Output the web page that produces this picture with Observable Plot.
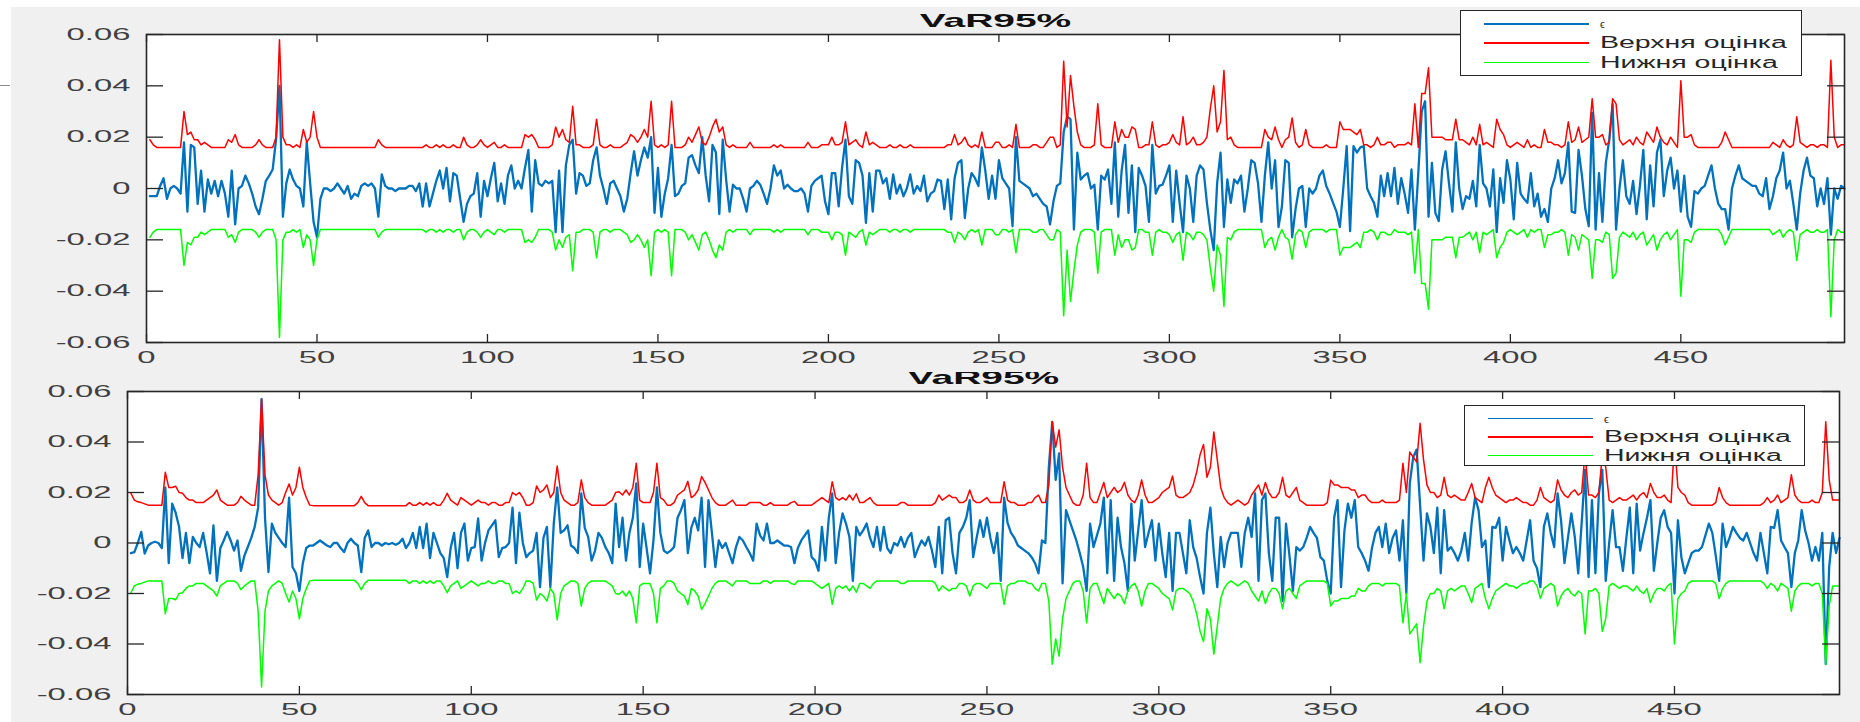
<!DOCTYPE html>
<html><head><meta charset="utf-8">
<script src="https://cdn.jsdelivr.net/npm/d3@7"></script>
<script src="https://cdn.jsdelivr.net/npm/@observablehq/plot@0.6"></script>
<style>
html,body{margin:0;padding:0;background:#fff;}
#fig{position:relative;width:1860px;height:722px;overflow:hidden;background:#f0f0f0;font-family:"Liberation Sans",Arial,sans-serif;}
#top{position:absolute;left:0;top:0;width:1860px;height:372px;z-index:2;background:#f0f0f0;overflow:hidden;}
#bottom{position:absolute;left:0;top:360px;width:1860px;height:362px;z-index:1;}
#wl{position:absolute;left:0;top:0;width:11px;height:722px;background:#fff;z-index:5;}
#wt{position:absolute;left:0;top:0;width:1860px;height:7px;background:#fff;z-index:5;}
#stray{position:absolute;left:0;top:85px;width:10px;height:1px;background:#8a8a8a;z-index:6;}
.legend{position:absolute;background:#fff;border:1.5px solid #262626;box-sizing:border-box;z-index:4;}
.legend .ln{position:absolute;height:1.5px;}
.legend .tx{position:absolute;white-space:nowrap;font-size:16px;color:#262626;line-height:16px;transform-origin:left center;}
</style>
</head><body>
<div id="fig">
  <div id="wl"></div><div id="wt"></div><div id="stray"></div>
  <div id="top"></div>
  <div id="bottom"></div>
</div>
<script>
const xTicks = [0,50,100,150,200,250,300,350,400,450];
const yTicks = [-0.06,-0.04,-0.02,0,0.02,0.04,0.06];
const titles = ["VaR95%", "VaR95%"];
const seriesNames = ["\u03F5", "Верхня оцінка", "Нижня оцінка"];
const seriesColors = ["#0072BD", "#FF0000", "#00FF00"];

const topEps = [
-0.003,-0.003,-0.003,0.001,0.004,-0.004,0,0.001,0,-0.002,
0.018,-0.009,0.017,0.016,-0.006,0.007,-0.009,0.0035,-0.002,0.003,
-0.003,0.003,-0.002,-0.011,0.007,-0.014,0,0.001,0.005,0.002,
-0.002,-0.007,-0.010,-0.004,0.003,0.005,0.0074,0.019,0.040,-0.011,
0.002,0.0074,0.0035,0.001,0,-0.007,0.018,0.002,-0.013,-0.019,
-0.004,0,0,-0.001,0,0.002,0,-0.002,0.001,-0.004,
-0.002,-0.003,0.001,0.002,0.001,0.002,0,-0.011,0.0055,0.001,
0,0,-0.001,0,0,0,0.001,0.001,-0.001,0.002,
-0.007,0.002,-0.007,-0.002,0.003,0.007,0,0.008,-0.005,0.006,
0.005,-0.004,-0.013,-0.006,-0.003,-0.002,0.006,-0.011,0.003,-0.003,
0.004,0.010,-0.005,0.002,-0.006,0.005,0.009,0,0.003,0,
0.008,0.015,-0.009,0.011,0.002,0.001,0.003,0.002,0.003,-0.017,
0.007,-0.017,0.009,0.017,0.019,-0.002,0.006,0.005,0.001,0.002,
0.011,0.016,0.005,0,-0.006,0.002,0.003,0,-0.003,-0.009,
-0.004,0.006,0.0145,0.005,0.011,0.016,0.012,0.020,-0.0095,0.008,
-0.011,-0.002,0.004,0.017,-0.003,-0.002,0.001,0.002,0.012,0.013,
0.009,0.006,0.020,0.005,-0.005,0.017,0.014,-0.010,0.019,0.0035,
-0.009,0.0015,0,0,-0.004,-0.009,0,0.001,0.003,0.0015,
-0.002,-0.006,0,0.009,0.005,0.007,0,0.0015,0,-0.001,
-0.001,0,-0.002,-0.009,0.001,0.003,0.004,0.005,-0.005,-0.010,
0.006,0.006,-0.007,0.008,0.019,-0.003,-0.006,0.011,0.010,0.005,
-0.0134,0.006,-0.009,0.007,0.007,0.002,0.004,-0.004,0.0055,-0.002,
0.0015,-0.003,0,0.0055,-0.002,0.001,-0.001,0.005,-0.005,-0.002,
-0.001,0.0035,0.003,-0.008,0.0035,-0.012,0.004,0.010,0.011,-0.0115,
0,0.006,0.004,0.001,0.016,0.007,-0.004,0.005,-0.004,0.011,
0.004,0.002,0,-0.0147,0.020,0.003,0.002,0.001,0,-0.003,
-0.002,-0.004,-0.006,-0.007,-0.014,-0.005,0.001,0.002,0.022,0.028,
0.027,-0.016,0.014,0.0035,0.005,0.006,0,0.0015,-0.016,0.005,
0.0035,0.0074,-0.006,0.018,-0.011,0.007,0.017,-0.0095,0.009,-0.017,
0.008,0.005,0.001,-0.013,0.017,-0.002,0.001,0.0015,0.005,0.009,
-0.013,0.007,-0.0056,-0.017,0.005,0,-0.013,0.005,0.009,0.0074,
-0.0056,-0.016,-0.024,0.002,0.014,-0.015,0.0035,-0.0056,0.0035,0.002,
0.005,-0.009,0,0.011,0.010,0.002,-0.013,0.005,0.018,0,
0.011,-0.015,-0.007,0.011,0.010,-0.019,-0.008,0,0.001,-0.015,
0,-0.002,0,0.005,0.007,0.001,-0.002,-0.0056,-0.009,-0.015,
0,0.0165,-0.0166,0.0165,0.014,0.016,0.0165,0,-0.003,-0.0056,
-0.011,0.005,-0.003,0.006,-0.003,0.008,-0.006,0.004,-0.002,-0.0095,
0.0074,-0.016,0.006,0.030,0.034,-0.011,0.010,-0.0095,-0.0127,0.0074,
0.0145,0.002,-0.009,0.018,0,-0.008,-0.003,-0.004,0.003,-0.007,
0.017,0.002,0,-0.007,0.0074,-0.017,0.004,-0.0056,0.011,0.0035,
-0.012,0.010,-0.002,-0.004,-0.0056,0.006,-0.007,-0.002,-0.011,-0.008,
-0.013,0,0.004,0.011,0.002,0.006,0.018,-0.009,-0.0095,0.015,
0.005,-0.008,-0.0147,0.0295,-0.016,0.006,-0.013,0.010,0.019,0.033,
-0.016,0,0.011,-0.003,-0.006,0.003,-0.010,0.001,0.015,-0.012,
0.009,-0.007,0.014,0.019,-0.003,0.007,0.012,0,0.007,-0.009,
0.005,-0.011,-0.015,-0.001,-0.002,0,0.001,0.005,0.009,0,
-0.006,-0.008,-0.008,-0.016,0,0.005,0.009,0.004,0.003,0.002,
0.001,0.001,-0.002,-0.003,0.004,-0.008,-0.003,0.004,0.007,0.014,
0,0.003,-0.006,-0.016,-0.002,0.007,0.012,0.005,0.004,-0.007,
0,-0.006,0.004,-0.018,0,-0.004,0.001,0
];

const topUpper = [
.019,.017,.016,.016,.016,.016,.016,.016,.016,.016,
.030,.021,.022,.019,.019,.017,.018,.017,.016,.016,
.016,.016,.016,.019,.018,.021,.017,.016,.016,.016,
.016,.017,.019,.017,.016,.016,.016,.020,.058,.020,
.017,.017,.016,.017,.016,.023,.018,.020,.030,.020,
.016,.016,.016,.016,.016,.016,.016,.016,.016,.016,
.016,.016,.016,.016,.016,.016,.016,.019,.017,.016,
.016,.016,.016,.016,.016,.016,.016,.016,.016,.016,
.016,.017,.016,.016,.017,.016,.017,.016,.016,.017,
.016,.016,.020,.017,.016,.016,.017,.019,.017,.016,
.017,.018,.016,.016,.017,.016,.016,.016,.016,.016,
.021,.020,.021,.019,.016,.016,.016,.016,.017,.024,
.020,.023,.019,.018,.032,.017,.017,.016,.016,.016,
.017,.027,.017,.016,.016,.017,.016,.016,.016,.017,
.018,.021,.020,.018,.020,.023,.020,.034,.017,.016,
.017,.016,.017,.034,.016,.016,.016,.017,.020,.018,
.021,.024,.018,.017,.020,.024,.027,.022,.024,.017,
.016,.017,.016,.016,.016,.016,.018,.016,.016,.016,
.016,.016,.016,.017,.016,.017,.016,.016,.016,.016,
.016,.016,.016,.018,.016,.016,.016,.017,.017,.017,
.020,.017,.017,.018,.026,.017,.018,.019,.017,.016,
.022,.017,.018,.017,.016,.016,.016,.017,.016,.016,
.017,.016,.016,.017,.016,.016,.016,.016,.016,.016,
.016,.016,.016,.016,.017,.017,.021,.017,.018,.020,
.017,.016,.017,.016,.022,.016,.016,.016,.018,.018,
.016,.016,.017,.016,.025,.016,.016,.016,.016,.017,
.017,.016,.016,.018,.020,.020,.016,.017,.0496,.024,
.044,.032,.022,.017,.016,.016,.016,.017,.033,.017,
.016,.016,.016,.026,.018,.023,.020,.020,.024,.023,
.016,.016,.017,.017,.026,.017,.016,.017,.017,.018,
.021,.018,.017,.028,.017,.018,.020,.017,.017,.018,
.020,.031,.040,.022,.026,.046,.019,.020,.017,.016,
.016,.016,.016,.016,.016,.016,.016,.023,.020,.019,
.024,.019,.016,.019,.020,.0275,.018,.016,.017,.023,
.017,.016,.016,.016,.016,.017,.016,.016,.016,.026,
.023,.023,.023,.022,.021,.023,.017,.017,.016,.017,
.020,.017,.017,.018,.018,.016,.017,.017,.017,.018,
.017,.033,.016,.037,.037,.047,.020,.020,.020,.020,
.019,.019,.019,.027,.019,.019,.018,.017,.020,.017,
.025,.017,.018,.017,.016,.027,.023,.021,.017,.016,
.017,.018,.017,.016,.019,.016,.017,.016,.016,.023,
.018,.018,.017,.017,.016,.017,.026,.018,.019,.024,
.018,.019,.020,.035,.020,.020,.021,.017,.018,.035,
.033,.019,.017,.018,.019,.017,.020,.018,.017,.022,
.020,.018,.024,.020,.018,.017,.020,.018,.016,.042,
.020,.020,.021,.017,.016,.016,.016,.016,.016,.016,
.016,.018,.022,.019,.016,.016,.016,.016,.016,.016,
.016,.016,.016,.016,.016,.016,.018,.017,.016,.019,
.017,.016,.017,.028,.018,.017,.016,.017,.017,.016,
.017,.017,.016,.050,.020,.016,.017,.017
];

const topLower = [
-.019,-.017,-.016,-.016,-.016,-.016,-.016,-.016,-.016,-.016,
-.030,-.021,-.022,-.019,-.019,-.017,-.018,-.017,-.016,-.016,
-.016,-.016,-.016,-.019,-.018,-.021,-.017,-.016,-.016,-.016,
-.016,-.017,-.019,-.017,-.016,-.016,-.016,-.020,-.058,-.020,
-.017,-.017,-.016,-.017,-.016,-.023,-.018,-.020,-.030,-.020,
-.016,-.016,-.016,-.016,-.016,-.016,-.016,-.016,-.016,-.016,
-.016,-.016,-.016,-.016,-.016,-.016,-.016,-.019,-.017,-.016,
-.016,-.016,-.016,-.016,-.016,-.016,-.016,-.016,-.016,-.016,
-.016,-.017,-.016,-.016,-.017,-.016,-.017,-.016,-.016,-.017,
-.016,-.016,-.020,-.017,-.016,-.016,-.017,-.019,-.017,-.016,
-.017,-.018,-.016,-.016,-.017,-.016,-.016,-.016,-.016,-.016,
-.021,-.020,-.021,-.019,-.016,-.016,-.016,-.016,-.017,-.024,
-.020,-.023,-.019,-.018,-.032,-.017,-.017,-.016,-.016,-.016,
-.017,-.027,-.017,-.016,-.016,-.017,-.016,-.016,-.016,-.017,
-.018,-.021,-.020,-.018,-.020,-.023,-.020,-.034,-.017,-.016,
-.017,-.016,-.017,-.034,-.016,-.016,-.016,-.017,-.020,-.018,
-.021,-.024,-.018,-.017,-.020,-.024,-.027,-.022,-.024,-.017,
-.016,-.017,-.016,-.016,-.016,-.016,-.018,-.016,-.016,-.016,
-.016,-.016,-.016,-.017,-.016,-.017,-.016,-.016,-.016,-.016,
-.016,-.016,-.016,-.018,-.016,-.016,-.016,-.017,-.017,-.017,
-.020,-.017,-.017,-.018,-.026,-.017,-.018,-.019,-.017,-.016,
-.022,-.017,-.018,-.017,-.016,-.016,-.016,-.017,-.016,-.016,
-.017,-.016,-.016,-.017,-.016,-.016,-.016,-.016,-.016,-.016,
-.016,-.016,-.016,-.016,-.017,-.017,-.021,-.017,-.018,-.020,
-.017,-.016,-.017,-.016,-.022,-.016,-.016,-.016,-.018,-.018,
-.016,-.016,-.017,-.016,-.025,-.016,-.016,-.016,-.016,-.017,
-.017,-.016,-.016,-.018,-.020,-.020,-.016,-.017,-.0496,-.024,
-.044,-.032,-.022,-.017,-.016,-.016,-.016,-.017,-.033,-.017,
-.016,-.016,-.016,-.026,-.018,-.023,-.020,-.020,-.024,-.023,
-.016,-.016,-.017,-.017,-.026,-.017,-.016,-.017,-.017,-.018,
-.021,-.018,-.017,-.028,-.017,-.018,-.020,-.017,-.017,-.018,
-.020,-.031,-.040,-.022,-.026,-.046,-.019,-.020,-.017,-.016,
-.016,-.016,-.016,-.016,-.016,-.016,-.016,-.023,-.020,-.019,
-.024,-.019,-.016,-.019,-.020,-.0275,-.018,-.016,-.017,-.023,
-.017,-.016,-.016,-.016,-.016,-.017,-.016,-.016,-.016,-.026,
-.023,-.023,-.023,-.022,-.021,-.023,-.017,-.017,-.016,-.017,
-.020,-.017,-.017,-.018,-.018,-.016,-.017,-.017,-.017,-.018,
-.017,-.033,-.016,-.037,-.037,-.047,-.020,-.020,-.020,-.020,
-.019,-.019,-.019,-.027,-.019,-.019,-.018,-.017,-.020,-.017,
-.025,-.017,-.018,-.017,-.016,-.027,-.023,-.021,-.017,-.016,
-.017,-.018,-.017,-.016,-.019,-.016,-.017,-.016,-.016,-.023,
-.018,-.018,-.017,-.017,-.016,-.017,-.026,-.018,-.019,-.024,
-.018,-.019,-.020,-.035,-.020,-.020,-.021,-.017,-.018,-.035,
-.033,-.019,-.017,-.018,-.019,-.017,-.020,-.018,-.017,-.022,
-.020,-.018,-.024,-.020,-.018,-.017,-.020,-.018,-.016,-.042,
-.020,-.020,-.021,-.017,-.016,-.016,-.016,-.016,-.016,-.016,
-.016,-.018,-.022,-.019,-.016,-.016,-.016,-.016,-.016,-.016,
-.016,-.016,-.016,-.016,-.016,-.016,-.018,-.017,-.016,-.019,
-.017,-.016,-.017,-.028,-.018,-.017,-.016,-.017,-.017,-.016,
-.017,-.017,-.016,-.050,-.020,-.016,-.017,-.017
];

const botEps = [
-0.004,-0.0036,0,0.0044,-0.0042,-0.001,0,0.0005,0,-0.002,
0.022,-0.008,0.0156,0.012,0.0064,-0.006,0.004,-0.008,0.0024,0,
-0.0016,0.004,-0.0036,-0.012,0.007,-0.015,-0.002,0.001,0.0044,0.001,
-0.003,0.001,-0.011,-0.005,-0.0016,0.002,0.0064,0.014,0.057,0.010,
-0.0115,0.0077,0.004,0.002,0,-0.0016,0.018,-0.0095,-0.012,-0.019,
-0.008,-0.002,-0.001,-0.001,0,0.001,0,-0.001,-0.0016,0,
0,-0.002,-0.0036,0,0.0017,0,-0.001,-0.0115,0.002,0.005,
-0.0016,0,0,-0.001,0,-0.0005,0,-0.0007,0,0.0017,
-0.002,0,0.004,-0.002,0.0064,-0.002,0.0077,-0.006,0.004,0,
-0.004,-0.006,-0.0135,-0.002,0.004,-0.010,0.004,0.0077,-0.007,-0.002,
-0.0016,0.0097,-0.007,0,0.005,0.007,0.009,-0.0056,-0.002,-0.0016,
0,0.014,-0.008,0.012,0,-0.0056,-0.004,-0.003,0.004,-0.0175,
0.002,0.0064,-0.0175,0.0077,0.022,0.004,0.005,0.007,-0.001,-0.002,
-0.004,0.0196,0.006,0.0024,-0.007,-0.003,0.004,0.002,-0.0016,-0.004,
-0.008,0.0156,-0.0016,0.010,-0.007,0.004,0.010,0.0236,-0.0095,0.0077,
-0.002,-0.012,0.001,0.022,0.004,-0.003,-0.004,-0.003,-0.0016,0.010,
0.013,0.017,-0.004,0.006,0.010,0.005,0.018,-0.0095,0.017,0.004,
-0.0095,0.001,-0.002,0,-0.004,-0.008,-0.0016,0.0024,0.001,-0.0016,
-0.004,-0.007,0.0077,0.003,0.001,0.0077,0,0,0.001,0,
-0.001,-0.001,-0.0016,-0.008,-0.002,0.001,0.003,0.005,-0.0056,-0.007,
-0.011,0.0064,-0.007,0.010,0.0196,-0.008,0.004,0.0117,0.0077,0.0024,
-0.015,0.0064,0.003,0.005,0.0077,0.002,-0.0016,0.0064,-0.003,0.0064,
-0.002,-0.004,0,-0.001,0.0024,-0.0016,0.002,0.004,-0.0056,-0.002,
0.001,-0.001,0.0024,-0.003,-0.0095,0.0064,-0.012,0.009,0.010,-0.004,
-0.012,0.004,0.0064,0.010,0.017,-0.0056,0.002,0.009,0.0024,0.010,
0.002,-0.004,0.004,-0.015,0.018,0.008,0.004,0.002,-0.001,-0.002,
-0.003,-0.004,-0.0056,-0.008,-0.012,0.001,0,0.030,0.048,0.025,
0.0355,-0.016,0.013,0.009,0.005,0.001,-0.004,-0.0095,-0.019,0.0077,
-0.0016,0.003,0.0077,0.018,-0.012,0.017,-0.015,0.010,-0.0016,-0.008,
-0.019,0.0156,-0.007,0.005,0.017,-0.0016,0.004,0.009,-0.007,0.0077,
-0.004,-0.0135,0.004,-0.019,0.004,0.004,-0.004,-0.012,0.009,-0.0016,
-0.006,-0.0135,-0.020,0.004,0.014,-0.004,-0.0175,0.0024,-0.0095,0,
0.004,0.004,0.004,-0.0095,0.004,0.010,0.0024,0.0196,-0.015,0.017,
0.0196,-0.004,-0.015,0.010,0.010,-0.023,0.0077,-0.005,-0.019,-0.0016,
-0.003,-0.0016,0.002,0.0064,0.004,0.002,-0.0056,-0.007,-0.015,-0.020,
0.010,0.017,-0.0175,0.005,0.0156,0.010,0.017,-0.0016,-0.004,-0.007,
-0.011,-0.002,0.004,0.0064,-0.0016,0.0077,-0.004,0.002,0.005,-0.007,
0.009,-0.020,0.0236,0.034,0.037,0.015,-0.007,0.0117,0.0064,-0.004,
0.014,-0.012,0.013,-0.003,-0.0016,-0.004,-0.007,-0.003,0.004,-0.007,
0.008,0.018,0.013,-0.0016,0.001,-0.0175,0.0064,0.006,0.010,-0.007,
0.0064,0.001,-0.004,-0.0016,-0.004,-0.007,0.001,0.009,-0.007,-0.010,
-0.0175,0.0064,0.0117,0.004,-0.0016,0.0196,0.009,-0.008,0.002,0.0117,
0.0024,-0.012,0.008,0.029,-0.0135,0.017,-0.012,0.0196,0.029,-0.015,
0,0.013,-0.0016,-0.0016,-0.011,0.002,0.014,-0.012,0.0156,-0.003,
0.004,0.010,0.017,-0.011,0,0.010,0.013,0.0064,0.004,-0.020,
0.009,-0.0056,-0.012,-0.008,-0.004,-0.003,-0.003,-0.0016,0.003,0.0077,
0.004,-0.005,-0.015,0.0077,-0.0016,0.002,0.0064,0.004,0.002,0.001,
0.004,0,-0.004,-0.007,0.004,-0.004,-0.012,0.0064,0.006,0.013,
0.001,-0.0016,-0.004,-0.0175,-0.004,0.001,0.013,0.005,0,-0.007,
-0.0016,-0.007,0.004,-0.048,-0.0095,0.004,-0.004,0.002
];

const botUpper = [
.0197,.017,.0163,.016,.0155,.015,.015,.015,.015,.015,
.028,.022,.022,.0225,.020,.0197,.018,.017,.017,.016,
.016,.016,.017,.018,.019,.021,.017,.016,.015,.015,
.015,.016,.0185,.017,.016,.015,.015,.027,.057,.027,
.019,.017,.016,.015,.016,.020,.0234,.019,.022,.030,
.022,.018,.015,.0148,.0148,.0148,.0148,.0148,.0148,.0148,
.0148,.0148,.0148,.0148,.0148,.0148,.016,.0185,.016,.0148,
.0148,.0148,.0148,.0148,.0148,.0148,.0148,.0148,.0148,.0148,
.0148,.016,.015,.015,.016,.015,.016,.015,.016,.015,
.015,.017,.0197,.017,.016,.015,.018,.017,.016,.015,
.016,.017,.016,.016,.015,.016,.016,.015,.015,.016,
.016,.020,.019,.020,.018,.015,.015,.016,.0226,.020,
.021,.023,.018,.020,.0305,.020,.017,.016,.015,.015,
.016,.025,.018,.016,.015,.015,.015,.015,.015,.016,
.017,.020,.0203,.019,.021,.019,.022,.0316,.017,.016,
.016,.016,.020,.0316,.018,.017,.015,.015,.016,.019,
.020,.021,.0244,.018,.019,.021,.0263,.024,.021,.018,
.016,.015,.015,.015,.016,.017,.015,.015,.015,.015,
.016,.016,.016,.016,.015,.015,.016,.015,.015,.015,
.015,.015,.016,.0165,.015,.015,.015,.015,.015,.016,
.017,.018,.017,.016,.0243,.018,.017,.018,.017,.019,
.017,.0195,.016,.016,.017,.018,.016,.015,.015,.015,
.015,.015,.015,.015,.016,.016,.015,.015,.015,.015,
.015,.015,.015,.015,.016,.019,.017,.018,.019,.018,
.018,.016,.016,.017,.021,.017,.016,.016,.017,.018,
.016,.016,.016,.016,.0243,.017,.016,.016,.015,.015,
.015,.016,.016,.018,.019,.016,.016,.023,.048,.038,
.0448,.030,.022,.019,.016,.015,.015,.019,.0316,.018,
.016,.016,.020,.024,.018,.020,.022,.020,.021,.024,
.019,.017,.016,.019,.025,.019,.016,.016,.017,.018,
.020,.021,.022,.0265,.019,.018,.018,.019,.020,.023,
.028,.035,.039,.026,.030,.044,.033,.022,.018,.016,
.015,.016,.017,.016,.015,.016,.019,.021,.023,.019,
.024,.020,.018,.018,.020,.026,.019,.018,.020,.022,
.017,.016,.015,.015,.015,.015,.015,.015,.016,.0249,
.023,.023,.022,.022,.022,.021,.021,.018,.019,.019,
.017,.016,.016,.016,.017,.016,.016,.016,.016,.017,
.0316,.020,.036,.034,.032,.0474,.033,.023,.020,.020,
.018,.019,.026,.019,.018,.019,.018,.017,.017,.020,
.0236,.018,.017,.016,.022,.026,.022,.019,.018,.017,
.016,.017,.017,.018,.017,.016,.016,.015,.015,.017,
.022,.018,.017,.016,.017,.025,.021,.019,.018,.020,
.021,.019,.020,.036,.019,.019,.018,.020,.035,.030,
.017,.016,.017,.018,.017,.017,.018,.019,.017,.019,
.020,.018,.0236,.020,.018,.018,.019,.017,.016,.040,
.022,.020,.019,.016,.015,.015,.015,.015,.015,.015,
.015,.016,.022,.018,.016,.015,.015,.015,.015,.015,
.015,.015,.015,.015,.015,.016,.018,.016,.017,.019,
.016,.017,.018,.027,.019,.017,.016,.016,.016,.017,
.016,.016,.020,.048,.025,.017,.017,.017
];

const botLower = [
-.0197,-.017,-.0163,-.016,-.0155,-.015,-.015,-.015,-.015,-.015,
-.028,-.022,-.022,-.0225,-.020,-.0197,-.018,-.017,-.017,-.016,
-.016,-.016,-.017,-.018,-.019,-.021,-.017,-.016,-.015,-.015,
-.015,-.016,-.0185,-.017,-.016,-.015,-.015,-.027,-.057,-.027,
-.019,-.017,-.016,-.015,-.016,-.020,-.0234,-.019,-.022,-.030,
-.022,-.018,-.015,-.0148,-.0148,-.0148,-.0148,-.0148,-.0148,-.0148,
-.0148,-.0148,-.0148,-.0148,-.0148,-.0148,-.016,-.0185,-.016,-.0148,
-.0148,-.0148,-.0148,-.0148,-.0148,-.0148,-.0148,-.0148,-.0148,-.0148,
-.0148,-.016,-.015,-.015,-.016,-.015,-.016,-.015,-.016,-.015,
-.015,-.017,-.0197,-.017,-.016,-.015,-.018,-.017,-.016,-.015,
-.016,-.017,-.016,-.016,-.015,-.016,-.016,-.015,-.015,-.016,
-.016,-.020,-.019,-.020,-.018,-.015,-.015,-.016,-.0226,-.020,
-.021,-.023,-.018,-.020,-.0305,-.020,-.017,-.016,-.015,-.015,
-.016,-.025,-.018,-.016,-.015,-.015,-.015,-.015,-.015,-.016,
-.017,-.020,-.0203,-.019,-.021,-.019,-.022,-.0316,-.017,-.016,
-.016,-.016,-.020,-.0316,-.018,-.017,-.015,-.015,-.016,-.019,
-.020,-.021,-.0244,-.018,-.019,-.021,-.0263,-.024,-.021,-.018,
-.016,-.015,-.015,-.015,-.016,-.017,-.015,-.015,-.015,-.015,
-.016,-.016,-.016,-.016,-.015,-.015,-.016,-.015,-.015,-.015,
-.015,-.015,-.016,-.0165,-.015,-.015,-.015,-.015,-.015,-.016,
-.017,-.018,-.017,-.016,-.0243,-.018,-.017,-.018,-.017,-.019,
-.017,-.0195,-.016,-.016,-.017,-.018,-.016,-.015,-.015,-.015,
-.015,-.015,-.015,-.015,-.016,-.016,-.015,-.015,-.015,-.015,
-.015,-.015,-.015,-.015,-.016,-.019,-.017,-.018,-.019,-.018,
-.018,-.016,-.016,-.017,-.021,-.017,-.016,-.016,-.017,-.018,
-.016,-.016,-.016,-.016,-.0243,-.017,-.016,-.016,-.015,-.015,
-.015,-.016,-.016,-.018,-.019,-.016,-.016,-.023,-.048,-.038,
-.0448,-.030,-.022,-.019,-.016,-.015,-.015,-.019,-.0316,-.018,
-.016,-.016,-.020,-.024,-.018,-.020,-.022,-.020,-.021,-.024,
-.019,-.017,-.016,-.019,-.025,-.019,-.016,-.016,-.017,-.018,
-.020,-.021,-.022,-.0265,-.019,-.018,-.018,-.019,-.020,-.023,
-.028,-.035,-.039,-.026,-.030,-.044,-.033,-.022,-.018,-.016,
-.015,-.016,-.017,-.016,-.015,-.016,-.019,-.021,-.023,-.019,
-.024,-.020,-.018,-.018,-.020,-.026,-.019,-.018,-.020,-.022,
-.017,-.016,-.015,-.015,-.015,-.015,-.015,-.015,-.016,-.0249,
-.023,-.023,-.022,-.022,-.022,-.021,-.021,-.018,-.019,-.019,
-.017,-.016,-.016,-.016,-.017,-.016,-.016,-.016,-.016,-.017,
-.0316,-.020,-.036,-.034,-.032,-.0474,-.033,-.023,-.020,-.020,
-.018,-.019,-.026,-.019,-.018,-.019,-.018,-.017,-.017,-.020,
-.0236,-.018,-.017,-.016,-.022,-.026,-.022,-.019,-.018,-.017,
-.016,-.017,-.017,-.018,-.017,-.016,-.016,-.015,-.015,-.017,
-.022,-.018,-.017,-.016,-.017,-.025,-.021,-.019,-.018,-.020,
-.021,-.019,-.020,-.036,-.019,-.019,-.018,-.020,-.035,-.030,
-.017,-.016,-.017,-.018,-.017,-.017,-.018,-.019,-.017,-.019,
-.020,-.018,-.0236,-.020,-.018,-.018,-.019,-.017,-.016,-.040,
-.022,-.020,-.019,-.016,-.015,-.015,-.015,-.015,-.015,-.015,
-.015,-.016,-.022,-.018,-.016,-.015,-.015,-.015,-.015,-.015,
-.015,-.015,-.015,-.015,-.015,-.016,-.018,-.016,-.017,-.019,
-.016,-.017,-.018,-.027,-.019,-.017,-.016,-.016,-.016,-.017,
-.016,-.016,-.020,-.048,-.025,-.017,-.017,-.017
];

const AX = "#262626";
const FONT = "'Liberation Sans', Arial, Helvetica, sans-serif";

function panel(o) {
  const innerW = 1860 - o.ml - o.mr;
  const innerH = o.h - o.mt - o.mb;
  const X = (d, i) => i + 1;
  const Y = d => d;
  return Plot.plot({
    width: 1860, height: o.h,
    marginTop: o.mt, marginBottom: o.mb, marginLeft: o.ml, marginRight: o.mr,
    style: {background: "transparent", fontFamily: FONT, fontSize: "16px", color: "#404040", overflow: "visible"},
    x: {domain: [0, 498]},
    y: {domain: [-0.06, 0.06]},
    marks: [
      Plot.frame({fill: "#ffffff", stroke: null}),
      Plot.line(o.eps, {x: X, y: Y, stroke: seriesColors[0], strokeWidth: 2.3, strokeLinejoin: "round"}),
      Plot.line(o.up, {x: X, y: Y, stroke: seriesColors[1], strokeWidth: 1.5, strokeLinejoin: "round"}),
      Plot.line(o.lo, {x: X, y: Y, stroke: seriesColors[2], strokeWidth: 1.5, strokeLinejoin: "round"}),
      Plot.tickX(xTicks, {x: d => d, insetTop: innerH - 8, stroke: AX, strokeWidth: 1.3}),
      Plot.tickX(xTicks, {x: d => d, insetBottom: innerH - 8, stroke: AX, strokeWidth: 1.3}),
      Plot.tickY(yTicks, {y: d => d, insetRight: innerW - 17, stroke: AX, strokeWidth: 1.3}),
      Plot.tickY(yTicks, {y: d => d, insetLeft: innerW - 17, stroke: AX, strokeWidth: 1.3}),
      Plot.axisX({ticks: xTicks, tickSize: 0, tickPadding: 9, label: null, tickFormat: d => String(d)}),
      Plot.axisY({ticks: yTicks, tickSize: 0, tickPadding: 16, label: null, tickFormat: d => d === 0 ? "0" : d.toFixed(2)}),
      Plot.frame({stroke: AX, strokeWidth: 1.6}),
      Plot.text([o.title], {text: d => d, frameAnchor: "top", lineAnchor: "middle", dy: -14, fontWeight: "bold", fontSize: 19, fill: "#111"})
    ]
  });
}

// horizontal stretch of every text about its own anchor point
function stretch(svg, f) {
  svg.querySelectorAll("text").forEach(t => {
    const b = t.getBBox();
    const a = getComputedStyle(t).textAnchor;
    const ax = a === "end" ? b.x + b.width : a === "middle" ? b.x + b.width / 2 : b.x;
    const tr = t.getAttribute("transform") || "";
    t.setAttribute("transform", `${tr} translate(${ax},0) scale(${f},1) translate(${-ax},0)`);
  });
}

function legend(box) {
  const d = document.createElement("div");
  d.className = "legend";
  Object.assign(d.style, {left: box.left + "px", top: box.top + "px", width: box.w + "px", height: box.h + "px"});
  seriesNames.forEach((name, k) => {
    const ln = document.createElement("div");
    ln.className = "ln";
    Object.assign(ln.style, {left: "23px", width: "105px", top: (box.rows[k] - 1) + "px", background: seriesColors[k]});
    d.appendChild(ln);
    const tx = document.createElement("div");
    tx.className = "tx";
    tx.textContent = name;
    const small = k === 0;
    Object.assign(tx.style, {left: "139px", top: (box.rows[k] - 8) + "px",
      fontSize: small ? "11px" : "16px", transform: small ? "none" : "scaleX(1.78)"});
    d.appendChild(tx);
  });
  document.getElementById("fig").appendChild(d);
}

const topSvg = panel({eps: topEps, up: topUpper, lo: topLower, h: 372, mt: 34, mb: 30, ml: 146, mr: 16, title: titles[0]});
document.getElementById("top").appendChild(topSvg);
stretch(topSvg, 2.05);

const botSvg = panel({eps: botEps, up: botUpper, lo: botLower, h: 362, mt: 31, mb: 28, ml: 127, mr: 21, title: titles[1]});
document.getElementById("bottom").appendChild(botSvg);
stretch(botSvg, 2.05);

legend({left: 1460, top: 10, w: 342, h: 66, rows: [13, 32, 51.5]});
legend({left: 1464, top: 405, w: 341, h: 61, rows: [12.5, 31, 49.5]});
</script>
</body></html>
